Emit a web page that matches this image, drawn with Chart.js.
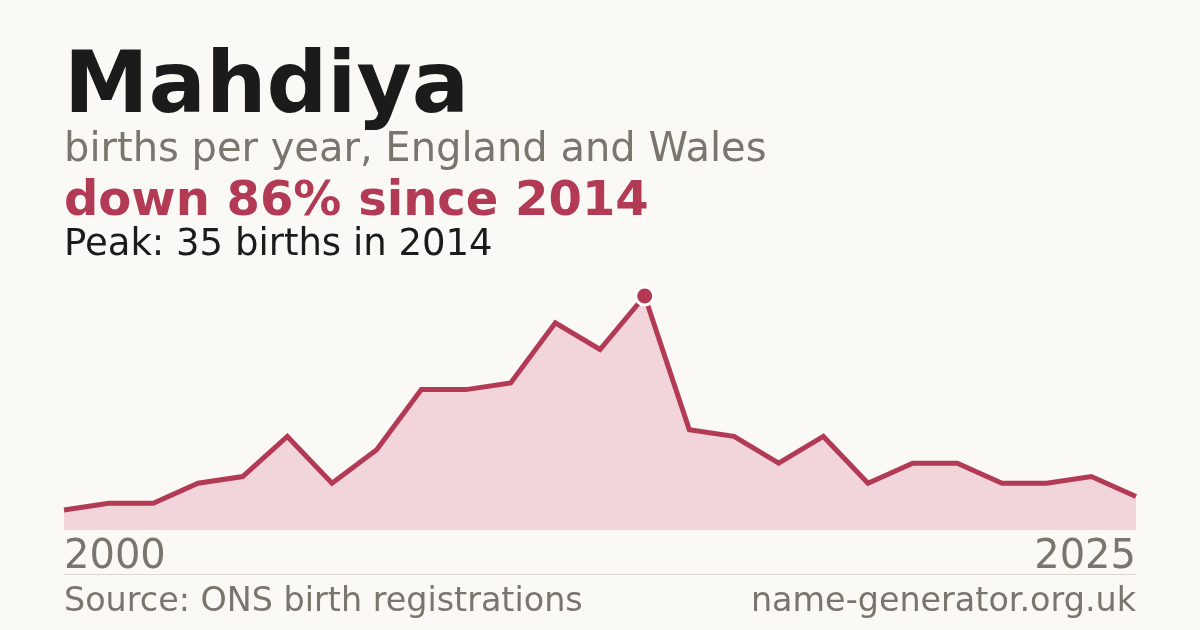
<!DOCTYPE html>
<html>
<head>
<meta charset="utf-8">
<script src="https://cdn.jsdelivr.net/npm/chart.js@4.4.1/dist/chart.umd.min.js"></script>
<style>
  html, body { margin: 0; padding: 0; background: #faf9f5; }
  #wrap { position: relative; width: 1200px; height: 630px; overflow: hidden; background: #faf9f5; font-family: "DejaVu Sans", sans-serif; }
  #c { position: absolute; left: 0; top: 0; width: 1200px; height: 630px; }
  .t { position: absolute; left: 64px; white-space: nowrap; line-height: 1; }
  #title { top: 40px; font-size: 85px; font-weight: bold; color: #1b1b1b; }
  #sub { top: 127px; font-size: 40px; color: #7a756d; }
  #delta { top: 174px; font-size: 48px; font-weight: bold; color: #b33a55; }
  #peak { top: 224px; font-size: 37px; color: #1b1b1b; }
  #rule { position: absolute; left: 64px; width: 1072px; top: 574px; height: 1px; background: #dcd9d3; }
  #src { top: 583px; font-size: 33.4px; color: #7a756d; }
  #site { top: 583px; left: auto; right: 64px; font-size: 33.4px; color: #7a756d; }
</style>
</head>
<body>
<div id="wrap">
  <canvas id="c" width="1200" height="630"></canvas>
  <div class="t" id="title">Mahdiya</div>
  <div class="t" id="sub">births per year, England and Wales</div>
  <div class="t" id="delta">down 86% since 2014</div>
  <div class="t" id="peak">Peak: 35 births in 2014</div>
  <div id="rule"></div>
  <div class="t" id="src">Source: ONS birth registrations</div>
  <div class="t" id="site">name-generator.org.uk</div>
</div>
<script>
const years = [2000, 2002, 2003, 2004, 2005, 2006, 2007, 2008, 2009, 2010, 2011, 2012, 2013, 2014, 2015, 2016, 2017, 2018, 2019, 2020, 2021, 2022, 2023, 2024, 2025];
const births = [3, 4, 4, 7, 8, 14, 7, 12, 21, 21, 22, 31, 27, 35, 15, 14, 10, 14, 7, 10, 10, 7, 7, 8, 5];
const tickYears = [2000, 2025];
const peakYear = 2014;

const LINE = '#b33a55';
const FILL = '#f1d5db';
const GREY = '#7a756d';

const peakIdx = years.indexOf(peakYear);

new Chart(document.getElementById('c'), {
  type: 'line',
  data: {
    labels: years.map(String),
    datasets: [{
      data: births,
      clip: false,
      borderColor: LINE,
      borderWidth: 5,
      backgroundColor: FILL,
      fill: 'origin',
      tension: 0,
      borderJoinStyle: 'miter',
      pointRadius: births.map((v, i) => i === peakIdx ? 9 : 0),
      pointHoverRadius: births.map((v, i) => i === peakIdx ? 9 : 0),
      pointBackgroundColor: LINE,
      pointBorderColor: '#ffffff',
      pointBorderWidth: 3
    }]
  },
  options: {
    responsive: false,
    animation: false,
    devicePixelRatio: 1,
    layout: { padding: { left: 64, right: 64, top: 296, bottom: 44 } },
    plugins: { legend: { display: false }, tooltip: { enabled: false } },
    scales: {
      x: {
        type: 'category',
        offset: false,
        grid: { display: false, drawTicks: false },
        border: { display: false },
        ticks: {
          autoSkip: false,
          maxRotation: 0,
          align: 'inner',
          padding: 4,
          color: GREY,
          font: { family: 'DejaVu Sans', size: 40 },
          callback: function (val, idx) {
            const y = years[idx];
            return tickYears.includes(y) ? String(y) : '';
          }
        }
      },
      y: {
        display: false,
        min: 0,
        max: 35
      }
    }
  }
});
</script>
</body>
</html>
